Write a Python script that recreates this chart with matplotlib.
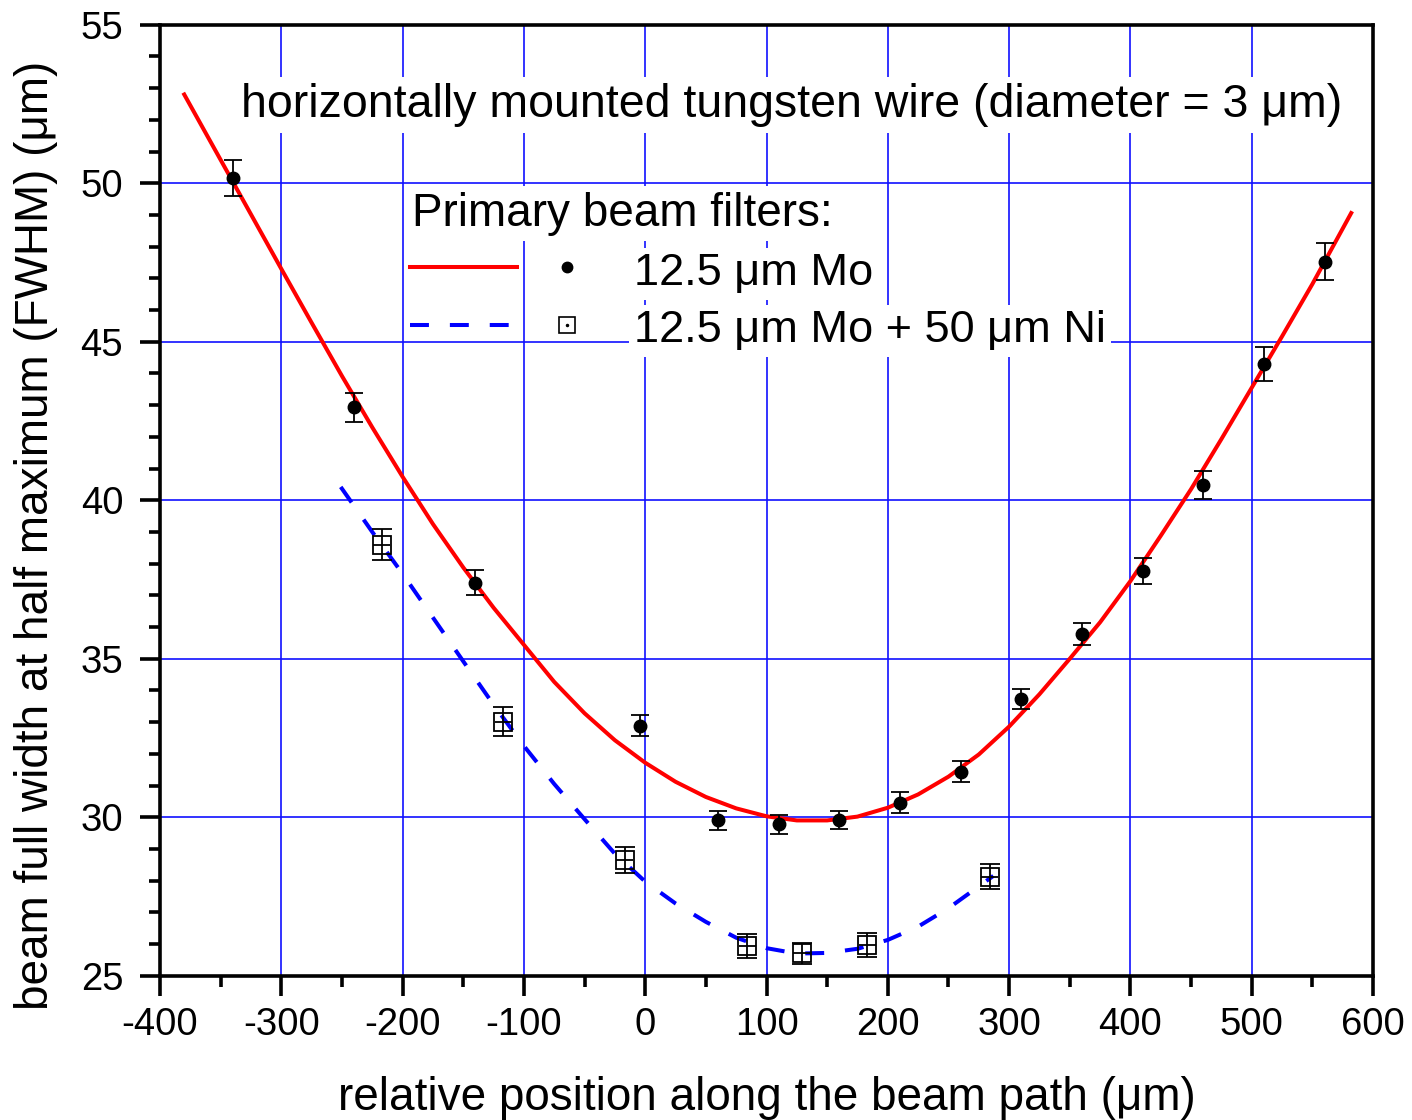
import matplotlib
matplotlib.use("Agg")
import matplotlib.pyplot as plt
from matplotlib.ticker import MultipleLocator

plt.rcParams['font.family'] = ['Liberation Sans', 'DejaVu Sans']
plt.rcParams['axes.unicode_minus'] = False

# Measured beam FWHM with the 12.5 um Mo filter
mo_pos = [-340, -240, -140, -4, 60, 110, 160, 210, 260, 310, 360, 410, 460, 510, 560]
mo_fwhm = [50.17, 42.93, 37.40, 32.88, 29.91, 29.78, 29.91, 30.46, 31.44, 33.73,
           35.78, 37.77, 40.48, 44.29, 47.53]
mo_err = [0.57, 0.46, 0.40, 0.33, 0.30, 0.30, 0.28, 0.33, 0.32, 0.32,
          0.35, 0.40, 0.45, 0.54, 0.59]

# Measured beam FWHM with the 12.5 um Mo + 50 um Ni filters
ni_pos = [-217, -117, -17, 84, 129, 183, 284]
ni_fwhm = [38.59, 33.02, 28.65, 25.94, 25.71, 25.97, 28.13]
ni_err = [0.49, 0.46, 0.40, 0.38, 0.33, 0.37, 0.38]
ni_pos_err = [7, 7, 7, 7, 7, 7, 7]

# Fitted caustic curves, sampled along the fit
mo_fit_pos = [-380, -340, -300, -275, -250, -225, -200, -175, -150, -125, -100,
              -75, -50, -25, 0, 25, 50, 75, 100, 125, 150, 175, 200, 225, 250,
              275, 300, 325, 350, 375, 400, 425, 450, 475, 500, 525, 550, 582]
mo_fit_fwhm = [52.80, 50.05, 47.30, 45.60, 43.92, 42.30, 40.74, 39.25, 37.88,
               36.61, 35.44, 34.27, 33.28, 32.43, 31.72, 31.12, 30.64, 30.28,
               30.03, 29.90, 29.90, 30.02, 30.30, 30.72, 31.28, 31.98, 32.86,
               33.88, 35.00, 36.15, 37.45, 38.88, 40.35, 41.93, 43.55, 45.17,
               46.82, 49.06]

ni_fit_pos = [-251, -225, -200, -175, -150, -125, -100, -75, -50, -25, 0, 25,
              50, 75, 100, 125, 150, 175, 200, 225, 250, 287]
ni_fit_fwhm = [40.42, 39.00, 37.68, 36.30, 34.92, 33.55, 32.25, 31.05, 29.94,
               28.85, 27.97, 27.28, 26.70, 26.20, 25.87, 25.70, 25.72, 25.85,
               26.13, 26.55, 27.13, 28.15]

x_ticks = [-400, -300, -200, -100, 0, 100, 200, 300, 400, 500, 600]
y_ticks = [25, 30, 35, 40, 45, 50, 55]

title_text = "horizontally mounted tungsten wire (diameter = 3 \u03bcm)"
legend_title = "Primary beam filters:"
mo_label = "12.5 \u03bcm Mo"
ni_label = "12.5 \u03bcm Mo + 50 \u03bcm Ni"

fig = plt.figure(figsize=(14.12, 11.2), dpi=100)
ax = fig.add_axes([0.1133, 0.1288, 0.8591, 0.8491])

ax.set_xlim(x_ticks[0], x_ticks[-1])
ax.set_ylim(y_ticks[0], y_ticks[-1])
ax.set_xticks(x_ticks)
ax.set_yticks(y_ticks)
ax.xaxis.set_minor_locator(MultipleLocator(50))
ax.yaxis.set_minor_locator(MultipleLocator(1))

ax.grid(True, which='major', color='#1010ff', linewidth=1.2, zorder=0)
ax.set_axisbelow(True)

for sp in ax.spines.values():
    sp.set_linewidth(2.6)
    sp.set_zorder(6)

ax.tick_params(which='major', direction='out', length=14.5, width=2.6,
               labelsize=27.5, top=False, right=False)
ax.tick_params(axis='x', which='major', pad=8)
ax.tick_params(axis='y', which='major', pad=12)
ax.tick_params(which='minor', direction='out', length=8, width=2.6,
               top=False, right=False)

# Fitted curves
ax.plot(mo_fit_pos, mo_fit_fwhm, color='#ff0000', linewidth=2.9, zorder=2,
        solid_joinstyle='round')
ax.plot(ni_fit_pos, ni_fit_fwhm, color='#0000ff', linewidth=2.9,
        linestyle=(0, (4.7, 5.2)), zorder=2)

# Data points with error bars
ax.errorbar(mo_pos, mo_fwhm, yerr=mo_err, fmt='o', color='black', markersize=9,
            ecolor='black', elinewidth=1.3, capsize=6.8, capthick=1.3, zorder=4)
ax.errorbar(ni_pos, ni_fwhm, xerr=ni_pos_err, fmt='none', ecolor='black',
            elinewidth=1.3, capsize=0, zorder=4)
ax.errorbar(ni_pos, ni_fwhm, yerr=ni_err, fmt='s', markersize=13,
            markerfacecolor='none', markeredgecolor='black', markeredgewidth=1.3,
            ecolor='black', elinewidth=1.3, capsize=7, capthick=1.3, zorder=4)

ax.set_xlabel("relative position along the beam path (\u03bcm)", fontsize=33)
ax.xaxis.set_label_coords(0.5, -0.105)
ax.set_ylabel("beam full width at half maximum (FWHM) (\u03bcm)", fontsize=33)
ax.yaxis.set_label_coords(-0.084, 0.4635)

white_box = dict(facecolor='white', edgecolor='none', pad=4)

ax.text(0.0668, 0.903, title_text, transform=ax.transAxes, fontsize=33.5,
        ha='left', va='baseline', bbox=white_box, zorder=5)

# Legend
ax.text(0.2078, 0.7884, legend_title, transform=ax.transAxes, fontsize=33,
        ha='left', va='baseline', bbox=white_box, zorder=5)
ax.plot([0.2061, 0.2943], [0.7453, 0.7453], transform=ax.transAxes,
        color='#ff0000', linewidth=2.9, zorder=5)
ax.plot([0.3355], [0.7453], transform=ax.transAxes, marker='o', color='black',
        markersize=7.5, zorder=5)
ax.text(0.3908, 0.7262, mo_label, transform=ax.transAxes, fontsize=32.5,
        ha='left', va='baseline', bbox=white_box, zorder=5)
ax.plot([0.2061, 0.2943], [0.6843, 0.6843], transform=ax.transAxes,
        color='#0000ff', linewidth=2.9, linestyle=(0, (4.7, 5.2)), zorder=5)
ax.plot([0.3355], [0.6843], transform=ax.transAxes, marker='s', markersize=11.5,
        markerfacecolor='white', markeredgecolor='black', markeredgewidth=1.2,
        zorder=5)
ax.plot([0.3355], [0.6843], transform=ax.transAxes, marker='o', markersize=1.5,
        color='black', zorder=6)
ax.text(0.3908, 0.6662, ni_label, transform=ax.transAxes, fontsize=32.5,
        ha='left', va='baseline', bbox=white_box, zorder=5)

fig.savefig("out.png", dpi=100)
